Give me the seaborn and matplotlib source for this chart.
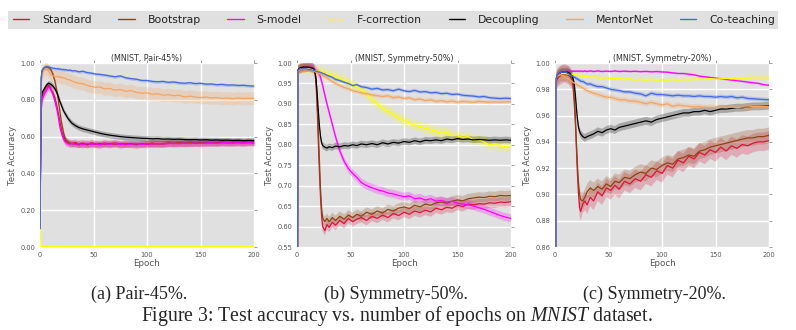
import numpy as np
import pandas as pd
import seaborn as sns
import matplotlib.pyplot as plt
from matplotlib.lines import Line2D
from matplotlib.patches import Rectangle

# Epochs at which test accuracy was recorded
epochs = [0, 1, 2, 4, 6, 8, 10, 12, 14, 16, 17, 18, 19, 20, 21, 22, 23, 24, 26, 28, 30,
          33, 36, 40, 44, 48, 52, 56, 60,
          65, 70, 75, 80, 85, 90, 95, 100, 105, 110, 115, 120, 125, 130, 135, 140, 145,
          150, 155, 160, 165, 170, 175, 180, 185, 190, 195, 200]

methods = ["Standard", "Bootstrap", "S-model", "F-correction", "Decoupling", "MentorNet", "Co-teaching"]
colors = ["#DC143C", "#8B4513", "#FF00FF", "#FFFF00", "#000000", "#F4A460", "#4169E1"]

titles = ["(MNIST, Pair-45%)", "(MNIST, Symmetry-50%)", "(MNIST, Symmetry-20%)"]
subcaptions = ["(a) Pair-45%.", "(b) Symmetry-50%.", "(c) Symmetry-20%."]

# ---------------- Pair-45% ----------------
standard_pair45 = [0.10, 0.78, 0.82, 0.85, 0.87, 0.88, 0.86, 0.84, 0.81, 0.76, 0.73, 0.70, 0.67, 0.64, 0.615, 0.60, 0.585, 0.575, 0.57, 0.565, 0.563,
                   0.568, 0.56, 0.565, 0.558, 0.566, 0.56, 0.557, 0.565,
                   0.56, 0.566, 0.558, 0.563, 0.56, 0.556, 0.562, 0.558, 0.565, 0.56, 0.562, 0.566, 0.563, 0.567, 0.564, 0.566, 0.568, 0.565, 0.569, 0.566,
                   0.568, 0.57, 0.567, 0.569, 0.57, 0.568, 0.571, 0.57]
bootstrap_pair45 = [0.10, 0.92, 0.96, 0.975, 0.978, 0.975, 0.965, 0.94, 0.90, 0.84, 0.80, 0.76, 0.72, 0.68, 0.65, 0.62, 0.60, 0.585, 0.572, 0.565, 0.56,
                    0.562, 0.555, 0.56, 0.555, 0.56, 0.558, 0.562, 0.558,
                    0.562, 0.558, 0.56, 0.556, 0.562, 0.558, 0.56, 0.563, 0.559, 0.562, 0.56, 0.564, 0.562, 0.565, 0.563, 0.566, 0.564, 0.567, 0.565, 0.568,
                    0.566, 0.569, 0.567, 0.568, 0.57, 0.568, 0.57, 0.569]
smodel_pair45 = [0.10, 0.74, 0.80, 0.83, 0.85, 0.87, 0.86, 0.83, 0.79, 0.74, 0.71, 0.67, 0.64, 0.62, 0.60, 0.585, 0.575, 0.568, 0.562, 0.558, 0.565,
                 0.556, 0.562, 0.555, 0.563, 0.557, 0.56, 0.555, 0.562,
                 0.557, 0.563, 0.556, 0.56, 0.558, 0.562, 0.557, 0.561, 0.559, 0.563, 0.56, 0.562, 0.564, 0.561, 0.565, 0.562, 0.566, 0.563, 0.565, 0.567,
                 0.564, 0.566, 0.568, 0.565, 0.567, 0.566, 0.568, 0.567]
fcorrection_pair45 = [0.10, 0.003, 0.002, 0.002, 0.002, 0.002, 0.002, 0.002, 0.002, 0.002, 0.002, 0.002, 0.002, 0.002, 0.002, 0.002, 0.002, 0.002, 0.002, 0.002, 0.002,
                      0.002, 0.002, 0.002, 0.002, 0.002, 0.002, 0.002, 0.002,
                      0.002, 0.002, 0.002, 0.002, 0.002, 0.002, 0.002, 0.002, 0.002, 0.002, 0.002, 0.002, 0.002, 0.002, 0.002, 0.002, 0.002, 0.002, 0.002, 0.002,
                      0.002, 0.002, 0.002, 0.002, 0.002, 0.002, 0.002, 0.002]
decoupling_pair45 = [0.10, 0.80, 0.84, 0.86, 0.88, 0.89, 0.885, 0.875, 0.86, 0.835, 0.82, 0.80, 0.785, 0.77, 0.755, 0.74, 0.73, 0.72, 0.70, 0.685, 0.672,
                     0.66, 0.65, 0.642, 0.636, 0.63, 0.624, 0.618, 0.613,
                     0.608, 0.604, 0.60, 0.597, 0.595, 0.593, 0.591, 0.59, 0.588, 0.589, 0.586, 0.587, 0.585, 0.586, 0.584, 0.583, 0.584, 0.582, 0.583, 0.581,
                     0.582, 0.58, 0.581, 0.579, 0.58, 0.578, 0.579, 0.578]
mentornet_pair45 = [0.10, 0.88, 0.94, 0.965, 0.97, 0.955, 0.935, 0.93, 0.928, 0.925, 0.928, 0.922, 0.925, 0.92, 0.923, 0.918, 0.92, 0.914, 0.91, 0.908, 0.902,
                    0.895, 0.89, 0.888, 0.878, 0.872, 0.868, 0.87, 0.86,
                    0.862, 0.852, 0.856, 0.846, 0.85, 0.84, 0.836, 0.838, 0.83, 0.833, 0.825, 0.828, 0.822, 0.825, 0.815, 0.82, 0.815, 0.812, 0.815, 0.81,
                    0.812, 0.808, 0.81, 0.806, 0.81, 0.807, 0.809, 0.808]
coteaching_pair45 = [0.10, 0.90, 0.96, 0.975, 0.98, 0.978, 0.975, 0.972, 0.97, 0.968, 0.97, 0.966, 0.968, 0.965, 0.963, 0.966, 0.962, 0.964, 0.96, 0.962, 0.957,
                     0.958, 0.952, 0.955, 0.948, 0.945, 0.94, 0.938, 0.935,
                     0.93, 0.925, 0.93, 0.92, 0.915, 0.912, 0.905, 0.905, 0.90, 0.898, 0.90, 0.895, 0.897, 0.892, 0.89, 0.893, 0.888, 0.89, 0.885, 0.886,
                     0.882, 0.884, 0.88, 0.881, 0.878, 0.879, 0.876, 0.875]
spread_pair45 = [0.02, 0.015, 0.018, 0.002, 0.015, 0.035, 0.008]

# ---------------- Symmetry-50% ----------------
standard_sym50 = [0.10, 0.982, 0.985, 0.987, 0.988, 0.989, 0.99, 0.99, 0.988, 0.985, 0.975, 0.94, 0.88, 0.80, 0.73, 0.67, 0.625, 0.60, 0.59, 0.605, 0.598,
                  0.61, 0.603, 0.615, 0.607, 0.62, 0.612, 0.618, 0.622,
                  0.615, 0.625, 0.62, 0.628, 0.622, 0.632, 0.627, 0.635, 0.63, 0.638, 0.634, 0.64, 0.636, 0.645, 0.641, 0.647, 0.645, 0.652, 0.649, 0.655,
                  0.653, 0.656, 0.655, 0.658, 0.657, 0.66, 0.659, 0.661]
bootstrap_sym50 = [0.10, 0.983, 0.986, 0.988, 0.99, 0.99, 0.99, 0.99, 0.989, 0.986, 0.978, 0.95, 0.90, 0.83, 0.76, 0.69, 0.645, 0.62, 0.612, 0.62, 0.612,
                   0.622, 0.615, 0.625, 0.618, 0.628, 0.622, 0.63, 0.625,
                   0.635, 0.63, 0.638, 0.633, 0.642, 0.638, 0.645, 0.648, 0.644, 0.652, 0.648, 0.655, 0.652, 0.658, 0.66, 0.657, 0.662, 0.665, 0.663, 0.668,
                   0.67, 0.672, 0.671, 0.674, 0.673, 0.676, 0.675, 0.676]
smodel_sym50 = [0.10, 0.98, 0.985, 0.987, 0.989, 0.99, 0.99, 0.99, 0.989, 0.987, 0.985, 0.982, 0.979, 0.976, 0.972, 0.965, 0.955, 0.945, 0.922, 0.90, 0.88,
                0.85, 0.82, 0.785, 0.76, 0.742, 0.73, 0.72, 0.708,
                0.70, 0.695, 0.69, 0.687, 0.682, 0.68, 0.676, 0.673, 0.675, 0.668, 0.67, 0.665, 0.668, 0.662, 0.664, 0.66, 0.662, 0.657, 0.655, 0.653,
                0.65, 0.646, 0.642, 0.637, 0.632, 0.627, 0.623, 0.62]
fcorrection_sym50 = [0.10, 0.98, 0.984, 0.986, 0.987, 0.987, 0.986, 0.985, 0.984, 0.983, 0.982, 0.982, 0.981, 0.98, 0.98, 0.978, 0.979, 0.977, 0.976, 0.974, 0.972,
                     0.97, 0.966, 0.962, 0.958, 0.952, 0.947, 0.942, 0.935,
                     0.925, 0.91, 0.90, 0.89, 0.882, 0.874, 0.866, 0.86, 0.853, 0.848, 0.845, 0.84, 0.837, 0.833, 0.828, 0.83, 0.823, 0.822, 0.818, 0.82,
                     0.812, 0.813, 0.806, 0.80, 0.802, 0.797, 0.795, 0.794]
decoupling_sym50 = [0.10, 0.983, 0.987, 0.989, 0.99, 0.99, 0.99, 0.989, 0.988, 0.985, 0.975, 0.955, 0.92, 0.88, 0.845, 0.82, 0.805, 0.798, 0.794, 0.792, 0.795,
                    0.793, 0.797, 0.795, 0.798, 0.797, 0.80, 0.798, 0.802,
                    0.80, 0.803, 0.80, 0.805, 0.802, 0.806, 0.804, 0.808, 0.806, 0.81, 0.807, 0.811, 0.81, 0.812, 0.81, 0.814, 0.812, 0.815, 0.813, 0.814,
                    0.812, 0.813, 0.812, 0.811, 0.812, 0.811, 0.812, 0.811]
mentornet_sym50 = [0.10, 0.98, 0.984, 0.985, 0.985, 0.984, 0.984, 0.983, 0.982, 0.98, 0.978, 0.977, 0.976, 0.975, 0.974, 0.972, 0.971, 0.97, 0.967, 0.964, 0.96,
                   0.955, 0.95, 0.945, 0.94, 0.937, 0.932, 0.93, 0.927,
                   0.925, 0.922, 0.92, 0.918, 0.92, 0.915, 0.917, 0.913, 0.915, 0.91, 0.912, 0.908, 0.91, 0.906, 0.908, 0.905, 0.907, 0.904, 0.906, 0.905,
                   0.904, 0.906, 0.905, 0.904, 0.905, 0.904, 0.905, 0.905]
coteaching_sym50 = [0.10, 0.983, 0.985, 0.986, 0.986, 0.986, 0.985, 0.984, 0.983, 0.982, 0.981, 0.98, 0.98, 0.978, 0.978, 0.977, 0.976, 0.975, 0.973, 0.97, 0.968,
                    0.965, 0.96, 0.957, 0.953, 0.95, 0.945, 0.947, 0.942,
                    0.94, 0.936, 0.938, 0.934, 0.935, 0.932, 0.936, 0.932, 0.93, 0.933, 0.929, 0.93, 0.927, 0.928, 0.925, 0.926, 0.923, 0.924, 0.921, 0.92,
                    0.919, 0.917, 0.918, 0.915, 0.914, 0.913, 0.914, 0.913]
spread_sym50 = [0.012, 0.012, 0.01, 0.012, 0.008, 0.005, 0.004]

# ---------------- Symmetry-20% ----------------
standard_sym20 = [0.10, 0.985, 0.988, 0.99, 0.991, 0.992, 0.992, 0.991, 0.99, 0.987, 0.982, 0.97, 0.955, 0.935, 0.915, 0.90, 0.89, 0.887, 0.893, 0.895, 0.892,
                  0.898, 0.895, 0.902, 0.899, 0.905, 0.903, 0.907, 0.904,
                  0.91, 0.908, 0.912, 0.91, 0.915, 0.913, 0.918, 0.916, 0.922, 0.92, 0.926, 0.924, 0.929, 0.927, 0.932, 0.93, 0.934, 0.932, 0.936, 0.933,
                  0.937, 0.935, 0.938, 0.937, 0.939, 0.94, 0.94, 0.941]
bootstrap_sym20 = [0.10, 0.986, 0.989, 0.991, 0.992, 0.992, 0.992, 0.992, 0.99, 0.988, 0.984, 0.974, 0.96, 0.94, 0.922, 0.908, 0.90, 0.896, 0.895, 0.898, 0.902,
                   0.905, 0.903, 0.906, 0.904, 0.908, 0.906, 0.91, 0.909,
                   0.913, 0.912, 0.915, 0.917, 0.916, 0.92, 0.919, 0.922, 0.924, 0.923, 0.927, 0.928, 0.93, 0.929, 0.933, 0.934, 0.936, 0.937, 0.938, 0.939,
                   0.94, 0.941, 0.942, 0.943, 0.943, 0.944, 0.944, 0.945]
smodel_sym20 = [0.10, 0.988, 0.99, 0.992, 0.993, 0.993, 0.993, 0.994, 0.9935, 0.994, 0.9935, 0.994, 0.9935, 0.994, 0.9935, 0.994, 0.9935, 0.994, 0.9935, 0.994, 0.9935,
                0.994, 0.9935, 0.994, 0.9935, 0.9938, 0.9935, 0.994, 0.9935,
                0.9938, 0.9935, 0.9937, 0.9934, 0.9936, 0.9933, 0.9935, 0.9932, 0.993, 0.9925, 0.992, 0.992, 0.9915, 0.991, 0.99, 0.9895, 0.989, 0.9885, 0.988, 0.9875,
                0.987, 0.9865, 0.986, 0.9855, 0.985, 0.9845, 0.9835, 0.983]
fcorrection_sym20 = [0.10, 0.988, 0.99, 0.991, 0.992, 0.992, 0.992, 0.9915, 0.991, 0.9915, 0.991, 0.9912, 0.991, 0.9905, 0.991, 0.9905, 0.99, 0.9905, 0.99, 0.9895, 0.99,
                     0.989, 0.9895, 0.989, 0.9885, 0.989, 0.988, 0.9885, 0.988,
                     0.9875, 0.988, 0.987, 0.9875, 0.987, 0.9875, 0.987, 0.9872, 0.987, 0.9875, 0.987, 0.9875, 0.9872, 0.9875, 0.9878, 0.9875, 0.988, 0.9878, 0.988, 0.9882,
                     0.988, 0.9885, 0.9885, 0.9885, 0.989, 0.9888, 0.989, 0.9888]
decoupling_sym20 = [0.10, 0.986, 0.99, 0.992, 0.993, 0.993, 0.993, 0.993, 0.992, 0.99, 0.988, 0.984, 0.976, 0.966, 0.957, 0.951, 0.948, 0.946, 0.944, 0.943, 0.944,
                    0.945, 0.946, 0.948, 0.947, 0.949, 0.95, 0.949, 0.951,
                    0.952, 0.953, 0.954, 0.955, 0.956, 0.955, 0.957, 0.958, 0.959, 0.96, 0.961, 0.962, 0.962, 0.963, 0.963, 0.964, 0.963, 0.964, 0.965, 0.965,
                    0.9655, 0.966, 0.966, 0.9665, 0.967, 0.967, 0.9672, 0.9675]
mentornet_sym20 = [0.10, 0.987, 0.99, 0.991, 0.991, 0.99, 0.989, 0.988, 0.987, 0.986, 0.985, 0.985, 0.984, 0.984, 0.983, 0.983, 0.982, 0.982, 0.981, 0.98, 0.979,
                   0.978, 0.977, 0.976, 0.975, 0.974, 0.974, 0.973, 0.972,
                   0.972, 0.971, 0.971, 0.97, 0.969, 0.97, 0.969, 0.968, 0.969, 0.967, 0.968, 0.9675, 0.967, 0.9665, 0.967, 0.966, 0.9665, 0.966, 0.9665, 0.966,
                   0.9665, 0.966, 0.9665, 0.9665, 0.967, 0.967, 0.967, 0.967]
coteaching_sym20 = [0.10, 0.988, 0.991, 0.992, 0.993, 0.993, 0.993, 0.992, 0.991, 0.99, 0.99, 0.989, 0.989, 0.988, 0.988, 0.987, 0.987, 0.986, 0.986, 0.985, 0.984,
                    0.984, 0.983, 0.982, 0.982, 0.981, 0.98, 0.9795, 0.979,
                    0.978, 0.978, 0.977, 0.9765, 0.975, 0.977, 0.976, 0.976, 0.9755, 0.975, 0.9755, 0.975, 0.975, 0.9745, 0.975, 0.9745, 0.9745, 0.974, 0.9745, 0.974,
                    0.9745, 0.9735, 0.974, 0.973, 0.9728, 0.9725, 0.9722, 0.972]
spread_sym20 = [0.007, 0.006, 0.0008, 0.0012, 0.003, 0.002, 0.0015]

panels = [
    ([standard_pair45, bootstrap_pair45, smodel_pair45, fcorrection_pair45,
      decoupling_pair45, mentornet_pair45, coteaching_pair45], spread_pair45),
    ([standard_sym50, bootstrap_sym50, smodel_sym50, fcorrection_sym50,
      decoupling_sym50, mentornet_sym50, coteaching_sym50], spread_sym50),
    ([standard_sym20, bootstrap_sym20, smodel_sym20, fcorrection_sym20,
      decoupling_sym20, mentornet_sym20, coteaching_sym20], spread_sym20),
]
y_limits = [(0.0, 1.0), (0.55, 1.0), (0.86, 1.0)]
y_steps = [0.2, 0.05, 0.02]

sns.set_theme(style="darkgrid", rc={
    "axes.facecolor": "#E0E0E0",
    "grid.color": "white",
    "grid.linewidth": 1.0,
    "axes.edgecolor": "#E0E0E0",
})
plt.rcParams["font.family"] = ["DejaVu Sans"]
plt.rcParams["mathtext.fontset"] = "custom"
plt.rcParams["mathtext.rm"] = "Liberation Serif"
plt.rcParams["mathtext.it"] = "Liberation Serif:italic"

W, H = 796, 330
fig = plt.figure(figsize=(W / 100, H / 100), dpi=100)
fig.patch.set_facecolor("white")

axes_left = [40, 297, 555]
axes_width = 214
axes_top, axes_bottom = 63, 247

for i, (series, spread) in enumerate(panels):
    ax = fig.add_axes([axes_left[i] / W, 1 - axes_bottom / H,
                       axes_width / W, (axes_bottom - axes_top) / H])
    frame = pd.DataFrame({
        "Epoch": np.tile(epochs, len(methods)),
        "acc": np.concatenate([np.asarray(s, dtype=float) for s in series]),
        "method": np.repeat(methods, len(epochs)),
    })
    for vals, s, c in zip(series, spread, colors):
        v = np.asarray(vals, dtype=float)
        ax.fill_between(epochs, v - s, v + s, color=c, alpha=0.25, lw=0, zorder=1)
    sns.lineplot(data=frame, x="Epoch", y="acc", hue="method", hue_order=methods,
                 palette=colors, linewidth=0.9, legend=False, ax=ax,
                 estimator=None, errorbar=None, sort=False, zorder=2)
    lo, hi = y_limits[i]
    ax.set_xlim(0, 200)
    ax.set_ylim(lo, hi)
    ax.set_xticks([0, 50, 100, 150, 200])
    ax.set_yticks(np.round(np.arange(lo, hi + 1e-9, y_steps[i]), 2))
    ax.yaxis.set_major_formatter(plt.FormatStrFormatter("%.2f"))
    ax.tick_params(axis="both", which="major", direction="out", length=2, width=0.5,
                   colors="#777777", labelcolor="#555555", labelsize=4.8, pad=1.5,
                   top=True, right=True)
    ax.set_xlabel("Epoch", fontsize=6.3, color="#555555", labelpad=1)
    ax.set_ylabel("Test Accuracy", fontsize=6.2, color="#555555", labelpad=2)
    ax.set_title(titles[i], fontsize=5.8, color="#333333", pad=1.5)
    for sp in ax.spines.values():
        sp.set_visible(False)
    fig.text((axes_left[i] + axes_width / 2 - 8) / W, 1 - 294 / H, subcaptions[i],
             ha="center", va="center", fontsize=13, family="Liberation Serif")

fig.text(397 / W, 1 - 316 / H,
         r"Figure 3: Test accuracy vs. number of epochs on $\mathit{MNIST}$ dataset.",
         ha="center", va="center", fontsize=14.2, family="Liberation Serif")

# legend strip across the top
fig.patches.append(Rectangle((8 / W, 1 - 29 / H), 770 / W, 18 / H,
                             transform=fig.transFigure, facecolor="#E0E0E0",
                             edgecolor="none", zorder=0))
handles = [Line2D([0], [0], color=c, lw=1.0) for c in colors]
fig.legend(handles, methods, loc="center", bbox_to_anchor=(394 / W, 1 - 20 / H),
           ncol=7, fontsize=7.8, frameon=False, handlelength=1.5,
           handletextpad=1.2, columnspacing=2.45, labelcolor="#222222")

fig.savefig("out.png", dpi=100)
